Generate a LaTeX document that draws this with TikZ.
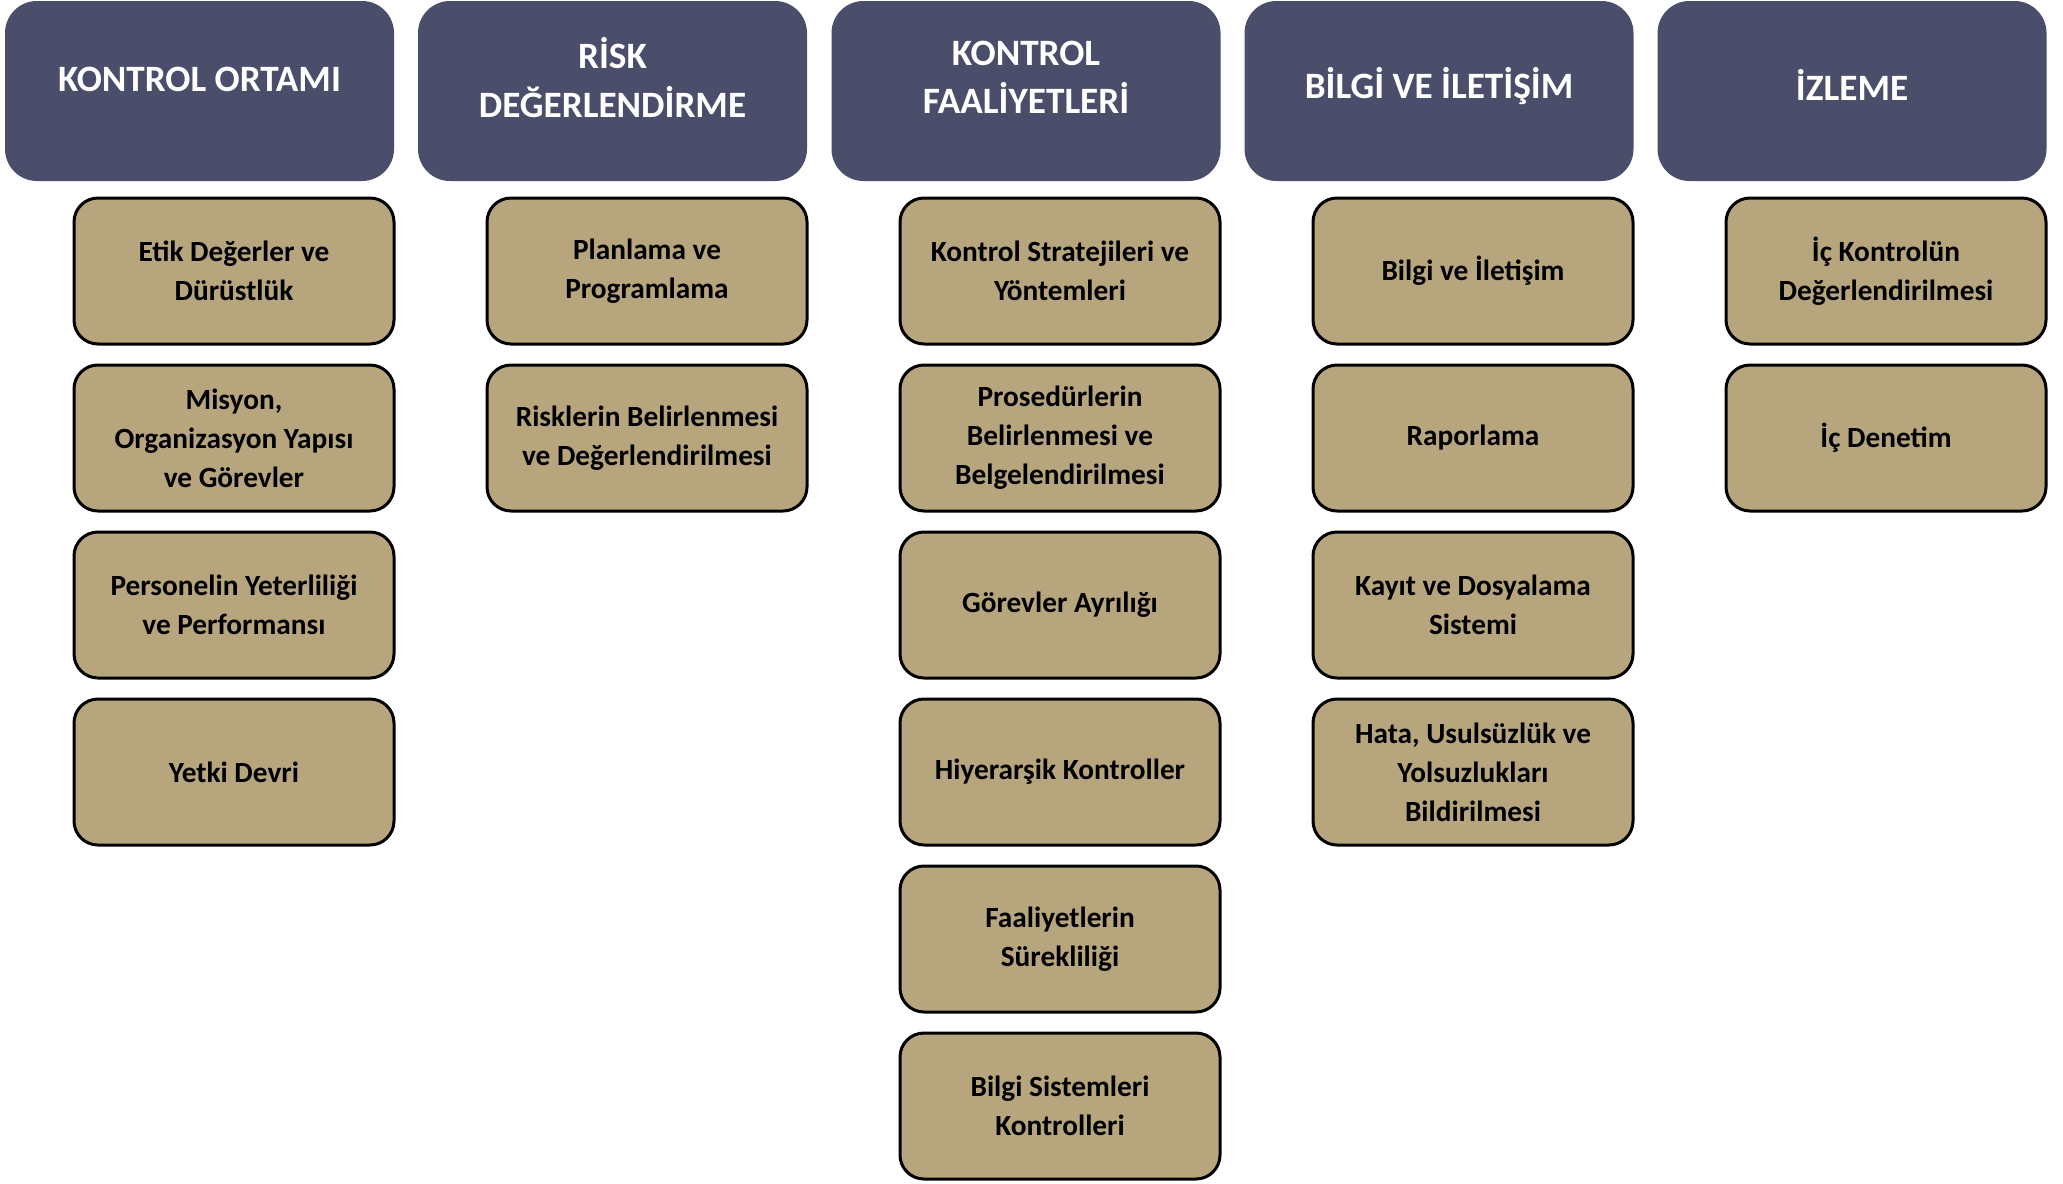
\documentclass[tikz,border=0pt]{standalone}
\usepackage{fontspec}
\setmainfont{Carlito}
\definecolor{headblue}{RGB}{75,78,106}
\definecolor{itemtan}{RGB}{183,165,125}

\begin{document}
\begin{tikzpicture}[
    x=1pt, y=-1pt,
    head/.style={rectangle, rounded corners=32pt, fill=headblue, minimum width=389pt, minimum height=180pt, inner sep=0pt},
    headtext/.style={text=white, align=center, font=\fontsize{37.2}{48.5}\selectfont\bfseries, inner sep=0pt},
    item/.style={rectangle, rounded corners=24pt, draw=black, line width=3pt, fill=itemtan, minimum width=320pt, minimum height=146pt, inner sep=0pt, align=center, font=\fontsize{29.3}{39}\selectfont\bfseries},
]
  \useasboundingbox (0,0) rectangle (2063,1183);

  \node [head]     (h1) at  (199.5,91) {};
  \node [head]     (h2) at  (612.5,91) {};
  \node [head]     (h3) at  (1026,91)  {};
  \node [head]     (h4) at  (1439,91)  {};
  \node [head]     (h5) at  (1852,91)  {};

  \node [headtext] (t1) at  (199.5,79.5) {KONTROL ORTAMI};
  \node [headtext] (t2) at  (612.5,77.5) {RİSK\\DEĞERLENDİRME};
  \node [headtext] (t3) at  (1026,77.5)  {KONTROL\\FAALİYETLERİ};
  \node [headtext] (t4) at  (1439,86)    {BİLGİ VE İLETİŞİM};
  \node [headtext] (t5) at  (1852,85)    {İZLEME};

  \node [item]     (a1) at  (234,271)  {Etik Değerler ve\\Dürüstlük};
  \node [item]     (a2) at  (234,438)  {Misyon,\\Organizasyon Yapısı\\ve Görevler};
  \node [item]     (a3) at  (234,605)  {Personelin Yeterliliği\\ve Performansı};
  \node [item]     (a4) at  (234,772)  {Yetki Devri};

  \node [item]     (b1) at  (647,271)  {Planlama ve\\Programlama};
  \node [item]     (b2) at  (647,438)  {Risklerin Belirlenmesi\\ve Değerlendirilmesi};

  \node [item]     (c1) at  (1060,271) {Kontrol Stratejileri ve\\Yöntemleri};
  \node [item]     (c2) at  (1060,438) {Prosedürlerin\\Belirlenmesi ve\\Belgelendirilmesi};
  \node [item]     (c3) at  (1060,605) {Görevler Ayrılığı};
  \node [item]     (c4) at  (1060,772) {Hiyerarşik Kontroller};
  \node [item]     (c5) at  (1060,939) {Faaliyetlerin\\Sürekliliği};
  \node [item]     (c6) at  (1060,1106) {Bilgi Sistemleri\\Kontrolleri};

  \node [item]     (d1) at  (1473,271) {Bilgi ve İletişim};
  \node [item]     (d2) at  (1473,438) {Raporlama};
  \node [item]     (d3) at  (1473,605) {Kayıt ve Dosyalama\\Sistemi};
  \node [item]     (d4) at  (1473,772) {Hata, Usulsüzlük ve\\Yolsuzlukları\\Bildirilmesi};

  \node [item]     (e1) at  (1886,271) {İç Kontrolün\\Değerlendirilmesi};
  \node [item]     (e2) at  (1886,438) {İç Denetim};
\end{tikzpicture}
\end{document}
